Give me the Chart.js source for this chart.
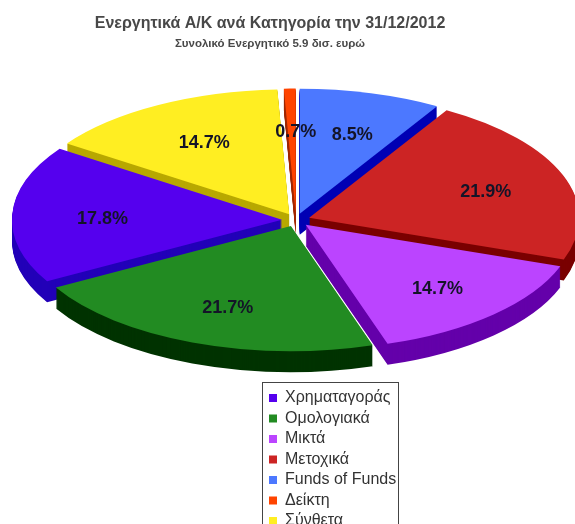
<!DOCTYPE html>
<html>
<head>
<meta charset="utf-8">
<style>html,body{margin:0;padding:0;background:#fff;overflow:hidden}canvas{display:block}</style>
<script src="https://cdn.jsdelivr.net/npm/chart.js@4"></script>
</head>
<body>
<canvas id="pie" width="575" height="524"></canvas>
<script>
// Slices run clockwise from twelve o'clock.
const categories = ['Funds of Funds', 'Μετοχικά', 'Μικτά', 'Ομολογιακά', 'Χρηματαγοράς', 'Σύνθετα', 'Δείκτη'];
const shares = [8.5, 21.9, 14.7, 21.7, 17.8, 14.7, 0.7];
const topColors = ['#4c78ff', '#cc2424', '#bb44ff', '#228b22', '#5500ee', '#ffee22', '#ff4400'];
const wallColors = ['#0000b4', '#7a0000', '#6400aa', '#003300', '#2200b8', '#b8a800', '#a02800'];
const legendOrder = ['Χρηματαγοράς', 'Ομολογιακά', 'Μικτά', 'Μετοχικά', 'Funds of Funds', 'Δείκτη', 'Σύνθετα'];
const chartTitle = 'Ενεργητικά Α/Κ ανά Κατηγορία την 31/12/2012';
const chartSubtitle = 'Συνολικό Ενεργητικό 5.9 δισ. ευρώ';

// Projection of the flat pie onto a tilted plane.
const tilt = { cx: 296, cy: 220, rx: 270, ry: 125, depth: 21, explode: 14, labelAt: 0.68, labelDx: 4, labelDy: 3 };
const legendBox = { left: 262, top: 382, right: 398 };

const tiltedPie = {
  id: 'tiltedPie',
  beforeDraw(chart) {
    // Pin the legend under the pie; it runs past the bottom edge of the page.
    const lg = chart.legend;
    lg.left = legendBox.left + 2.5;
    lg.right = legendBox.right;
    lg.top = legendBox.top + 3.5;
    lg.bottom = 640;
  },
  beforeDatasetDraw(chart, args) {
    const ctx = chart.ctx;
    const arcs = chart.getDatasetMeta(args.index).data.map((arc, i) => ({ arc, i }));
    const mid = a => (a.arc.startAngle + a.arc.endAngle) / 2;
    // Paint from the back of the pie to the front.
    arcs.sort((a, b) => Math.sin(mid(a)) - Math.sin(mid(b)));

    const paint = (item, color, drop) => {
      const { arc } = item;
      const m = mid(item);
      const kx = tilt.rx / arc.outerRadius;
      const ky = tilt.ry / arc.outerRadius;
      const face = Object.create(arc);
      face.options = Object.assign({}, arc.options, { backgroundColor: color, borderWidth: 0 });
      ctx.save();
      ctx.translate(tilt.cx + Math.cos(m) * tilt.explode,
                    tilt.cy + Math.sin(m) * tilt.explode * tilt.ry / tilt.rx + drop);
      ctx.scale(kx, ky);
      ctx.translate(-arc.x, -arc.y);
      arc.draw.call(face, ctx);
      ctx.restore();
    };

    arcs.forEach(item => {
      for (let d = tilt.depth; d > 0; d--) paint(item, wallColors[item.i], d);
      paint(item, topColors[item.i], 0);
    });

    // Percentage labels sit on the top faces.
    ctx.save();
    ctx.font = 'bold 18px "Liberation Sans", Arial, sans-serif';
    ctx.fillStyle = '#141428';
    ctx.textAlign = 'center';
    ctx.textBaseline = 'middle';
    arcs.forEach(item => {
      const m = mid(item);
      const x = tilt.cx + tilt.labelDx + Math.cos(m) * (tilt.explode + tilt.rx * tilt.labelAt);
      const y = tilt.cy + tilt.labelDy + Math.sin(m) * (tilt.explode * tilt.ry / tilt.rx + tilt.ry * tilt.labelAt);
      ctx.fillText(shares[item.i].toFixed(1) + '%', x, y);
    });
    ctx.restore();
    return false;
  },
  afterDraw(chart) {
    // Legend frame, open at the bottom of the page.
    const ctx = chart.ctx;
    ctx.save();
    ctx.strokeStyle = '#444';
    ctx.lineWidth = 1;
    ctx.strokeRect(legendBox.left + 0.5, legendBox.top + 0.5, legendBox.right - legendBox.left, 200);
    ctx.restore();
  }
};

new Chart(document.getElementById('pie'), {
  type: 'pie',
  data: {
    labels: categories,
    datasets: [{ data: shares, backgroundColor: topColors, borderWidth: 0 }]
  },
  options: {
    responsive: false,
    animation: false,
    // The heading is centred slightly left of the page middle.
    layout: { padding: { right: 35 } },
    plugins: {
      title: {
        display: true,
        fullSize: false,
        text: chartTitle,
        color: '#484848',
        font: { family: '"Liberation Sans", Arial, sans-serif', size: 16, weight: 'bold' },
        padding: { top: 14, bottom: 4 }
      },
      subtitle: {
        display: true,
        fullSize: false,
        text: chartSubtitle,
        color: '#484848',
        font: { family: '"Liberation Sans", Arial, sans-serif', size: 11.5, weight: 'bold' },
        padding: { top: 0, bottom: 10 }
      },
      legend: {
        display: true,
        position: 'chartArea',
        align: 'start',
        labels: {
          boxWidth: 8,
          boxHeight: 8,
          padding: 4.5,
          color: '#333',
          font: { family: '"Liberation Sans", Arial, sans-serif', size: 16 },
          sort: (a, b) => legendOrder.indexOf(a.text) - legendOrder.indexOf(b.text)
        }
      },
      tooltip: { enabled: false }
    }
  },
  plugins: [tiltedPie]
});
</script>
</body>
</html>
